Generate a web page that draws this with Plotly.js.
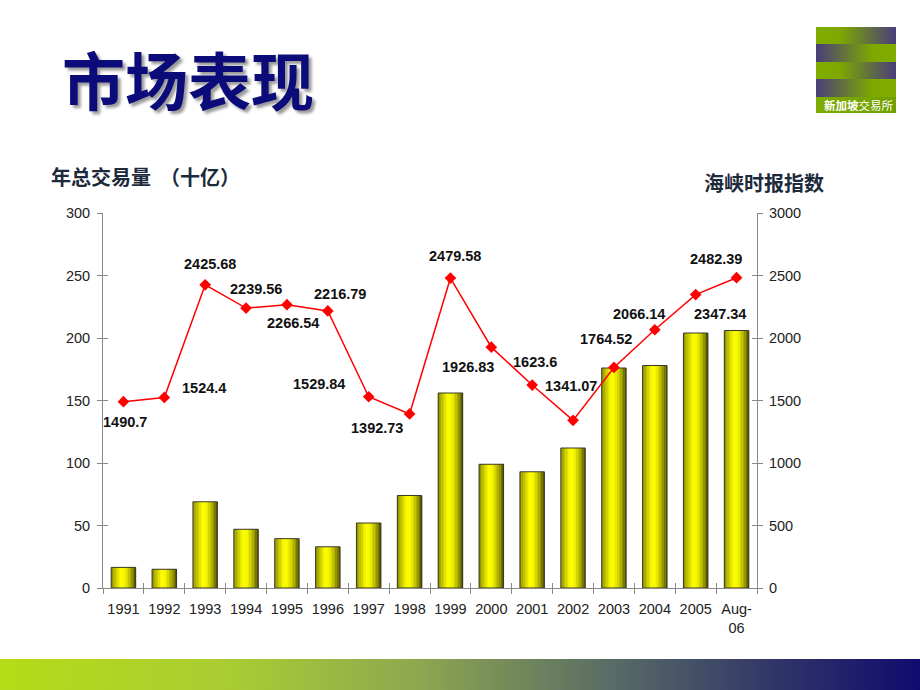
<!DOCTYPE html>
<html>
<head>
<meta charset="utf-8">
<script src="https://cdn.plot.ly/plotly-3.0.1.min.js"></script>
<style>
html,body{margin:0;padding:0;background:#fff;}
#chart{width:920px;height:690px;}
</style>
</head>
<body>
<div id="chart"></div>
<script>
// ---- data ----
const categories = ['1991','1992','1993','1994','1995','1996','1997','1998','1999','2000','2001','2002','2003','2004','2005','Aug-<br>06'];
const volume = [16.5, 15, 69, 47, 39.5, 33, 52, 74, 156, 99, 93, 112, 176, 178, 204, 206];
const stIndex = [1490.7, 1524.4, 2425.68, 2239.56, 2266.54, 2216.79, 1529.84, 1392.73, 2479.58, 1926.83, 1623.6, 1341.07, 1764.52, 2066.14, 2347.34, 2482.39];
const leftTicks = [0, 50, 100, 150, 200, 250, 300];
const rightTicks = [0, 500, 1000, 1500, 2000, 2500, 3000];

// ---- styling / placement (pixels) ----
const labelDx = [2, 40, 5, 10, 6, 12, -50, -33, 5, -23, 3, -2, -8, -16, 24, -21];
const labelDy = [20, -9, -21, -19, 18, -17, -13, 14, -22, 20, -23, -34, -28, -16, 19, -19];

const W = 920, H = 690;
const M = {l: 103, r: 163, t: 213, b: 102};
const PW = W - M.l - M.r, PH = H - M.t - M.b;
const px = x => (x - M.l) / PW;
const py = y => (H - M.b - y) / PH;

// cylinder-like gradient for bars, built from overlaid narrow bar strips
const stops = [[0,[140,140,0]],[0.15,[190,190,0]],[0.38,[255,255,0]],[0.55,[245,245,0]],[0.8,[170,170,0]],[1,[75,75,0]]];
function gcol(t){
  for(let i=0;i<stops.length-1;i++){
    const a=stops[i],b=stops[i+1];
    if(t>=a[0]&&t<=b[0]){
      const f=(t-a[0])/(b[0]-a[0]);
      const c=a[1].map((v,k)=>Math.round(v+(b[1][k]-v)*f));
      return 'rgb('+c.join(',')+')';
    }
  }
  return 'rgb(75,75,0)';
}
const barW = 0.6, N = 16;
const traces = [];
for(let i=0;i<N;i++){
  const w = barW/N;
  traces.push({
    type:'bar', x:categories, y:volume, xaxis:'x', yaxis:'y',
    width: (i<N-1? w*1.15 : w), offset: -barW/2 + i*w,
    marker:{color:gcol((i+0.5)/N), line:{width:0}},
    hoverinfo:'skip', showlegend:false
  });
}
traces.push({
  type:'bar', x:categories, y:volume, xaxis:'x', yaxis:'y',
  width: barW, offset: -barW/2,
  marker:{color:'rgba(0,0,0,0)', line:{color:'#3a3a2a', width:1}},
  hoverinfo:'skip', showlegend:false
});
traces.push({
  type:'scatter', mode:'lines+markers', x:categories, y:stIndex, xaxis:'x', yaxis:'y2',
  line:{color:'#ff0000', width:1.5},
  marker:{symbol:'diamond', size:9, color:'#ff0000'},
  showlegend:false, cliponaxis:false
});
// invisible helpers so the inner half of the crossing ticks get drawn
traces.push({type:'scatter', mode:'markers', x:[0], y:[0], xaxis:'x2', yaxis:'y3', marker:{opacity:0}, hoverinfo:'skip', showlegend:false});
traces.push({type:'scatter', mode:'markers', x:[0], y:[0], xaxis:'x2', yaxis:'y4', marker:{opacity:0}, hoverinfo:'skip', showlegend:false});

const labelFont = {family:'Liberation Sans, Arial, sans-serif', size:14.5, color:'#111', weight:'bold'};
const annotations = stIndex.map((v,i)=>({
  x: i, y: v, xref:'x', yref:'y2', text: String(v), showarrow:false,
  xshift: labelDx[i], yshift: -labelDy[i], font: labelFont
}));
annotations.push({
  xref:'paper', yref:'paper', x:px(188), y:py(78), text:'市场表现', showarrow:false,
  xanchor:'center', yanchor:'middle',
  font:{family:'Noto Sans CJK SC, sans-serif', size:63, color:'#0b0b7a', weight:'bold', shadow:'3px 3px 3px #9a9a9a'}
});
annotations.push({
  xref:'paper', yref:'paper', x:px(49), y:py(177), text:'年总交易量  （十亿）', showarrow:false,
  xanchor:'left', yanchor:'middle',
  font:{family:'Noto Sans CJK SC, sans-serif', size:20, color:'#1c2a3c', weight:'bold'}
});
annotations.push({
  xref:'paper', yref:'paper', x:px(702), y:py(182), text:'海峡时报指数', showarrow:false,
  xanchor:'left', yanchor:'middle',
  font:{family:'Noto Sans CJK SC, sans-serif', size:20, color:'#1c2a3c', weight:'bold'}
});
annotations.push({
  xref:'paper', yref:'paper', x:px(859), y:py(105), text:'<b>新加坡</b>交易所', showarrow:false,
  xanchor:'center', yanchor:'middle',
  font:{family:'Noto Sans CJK SC, sans-serif', size:11.5, color:'#ffffff'}
});

// gradient images
const logoSvg = "<svg xmlns='http://www.w3.org/2000/svg' width='80' height='86' viewBox='0 0 80 86' preserveAspectRatio='none'>"+
 "<defs><linearGradient id='a' x1='0' x2='1'><stop offset='0' stop-color='#80ad00'/><stop offset='0.3' stop-color='#7ea800'/><stop offset='1' stop-color='#4a3d7b'/></linearGradient>"+
 "<linearGradient id='b' x1='0' x2='1'><stop offset='0' stop-color='#4a3d7b'/><stop offset='0.7' stop-color='#7ea800'/><stop offset='1' stop-color='#80ad00'/></linearGradient>"+
 "<linearGradient id='c' x1='0' x2='1'><stop offset='0' stop-color='#7eab00'/><stop offset='1' stop-color='#72a000'/></linearGradient></defs>"+
 "<rect x='0' y='0' width='80' height='17' fill='url(#a)'/>"+
 "<rect x='0' y='17' width='80' height='18' fill='url(#b)'/>"+
 "<rect x='0' y='35' width='80' height='17' fill='url(#a)'/>"+
 "<rect x='0' y='52' width='80' height='18' fill='url(#b)'/>"+
 "<rect x='0' y='70' width='80' height='16' fill='url(#c)'/></svg>";
const barSvg = "<svg xmlns='http://www.w3.org/2000/svg' width='920' height='31' viewBox='0 0 920 31' preserveAspectRatio='none'>"+
 "<defs><linearGradient id='g' x1='0' x2='1'><stop offset='0' stop-color='#b4dc17'/><stop offset='0.25' stop-color='#aacc33'/><stop offset='0.45' stop-color='#8ea84f'/><stop offset='0.67' stop-color='#586a66'/><stop offset='0.85' stop-color='#2e3368'/><stop offset='1' stop-color='#110b6e'/></linearGradient></defs>"+
 "<rect x='0' y='0' width='920' height='31' fill='url(#g)'/></svg>";
const uri = s => 'data:image/svg+xml;charset=utf-8,' + encodeURIComponent(s);

const images = [
  {source: uri(logoSvg), xref:'paper', yref:'paper', x:px(816), y:py(27), sizex:80/PW, sizey:86/PH, sizing:'stretch', xanchor:'left', yanchor:'top', layer:'below'},
  {source: uri(barSvg), xref:'paper', yref:'paper', x:px(0), y:py(659), sizex:920/PW, sizey:31/PH, sizing:'stretch', xanchor:'left', yanchor:'top', layer:'below'}
];

const boundaries = categories.map((c,i)=>i-0.5).concat([categories.length-0.5]);
const tickFont = {family:'Liberation Sans, Arial, sans-serif', size:14.5, color:'#222'};
const axisCommon = {ticklen:5, tickcolor:'#888', showgrid:false, zeroline:false, tickfont:tickFont};
const layout = {
  width: W, height: H,
  margin: M,
  paper_bgcolor:'#ffffff', plot_bgcolor:'rgba(0,0,0,0)',
  barmode:'overlay', bargap:0,
  showlegend:false,
  xaxis:Object.assign({type:'category', tickson:'boundaries', ticks:'outside',
         showline:true, linecolor:'#888', linewidth:1, tickangle:0, range:[-0.5, 15.5], ticklabelstandoff:8}, axisCommon),
  xaxis2:Object.assign({overlaying:'x', anchor:'y', range:[-0.5, 15.5], tickvals:boundaries, ticks:'inside',
         showticklabels:false, showline:false}, axisCommon),
  yaxis:Object.assign({range:[0,300], tickvals:leftTicks, ticks:'outside',
         showline:true, linecolor:'#888', linewidth:1, ticklabelstandoff:4}, axisCommon),
  yaxis2:Object.assign({range:[0,3000], tickvals:rightTicks, overlaying:'y', side:'right', ticks:'outside',
         showline:true, linecolor:'#888', linewidth:1, ticklabelstandoff:3}, axisCommon),
  yaxis3:Object.assign({range:[0,300], tickvals:leftTicks, overlaying:'y', side:'left', anchor:'x', ticks:'inside',
         showticklabels:false, showline:false}, axisCommon),
  yaxis4:Object.assign({range:[0,300], tickvals:leftTicks, overlaying:'y', side:'right', anchor:'x', ticks:'inside',
         showticklabels:false, showline:false}, axisCommon),
  annotations: annotations,
  images: images
};
Plotly.newPlot('chart', traces, layout, {staticPlot:true, displayModeBar:false});
</script>
</body>
</html>
